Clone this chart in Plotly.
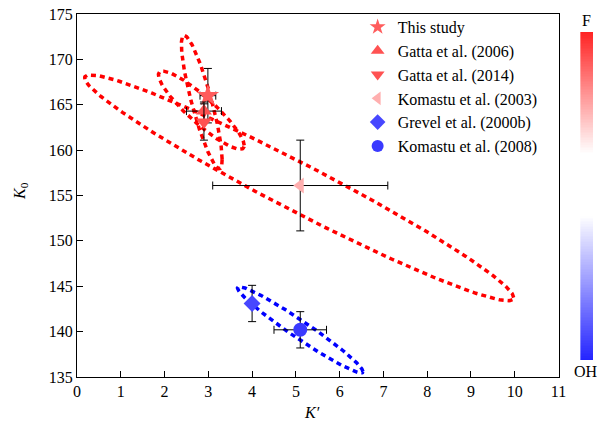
import numpy as np
import plotly.graph_objects as go

# ---- data ----
names = ["This study", "Gatta et al. (2006)", "Gatta et al. (2014)",
         "Komastu et al. (2003)", "Grevel et al. (2000b)", "Komastu et al. (2008)"]
k_prime = [2.99, 2.90, 2.90, 5.10, 4.00, 5.10]
k0 = [166.0, 164.3, 163.1, 156.1, 143.1, 140.2]
err_kp = [0.18, 0.40, 0.0, 2.0, 0.0, 0.60]
err_k0 = [3.0, 1.0, 2.0, 5.0, 2.0, 2.0]
symbols = ["star", "triangle-up", "triangle-down", "triangle-left", "diamond", "circle"]
marker_colors = ["#FF5C5C", "#FF5252", "#FF5252", "#FFAFAF", "#4747FF", "#3A3AFF"]
marker_sizes = [17, 14, 14, 14, 13, 14]

# confidence ellipses: centre K', centre K0, sigma K', sigma K0, correlation
ell_cx = [2.85, 2.84, 5.075, 5.10]
ell_cy = [165.3, 164.4, 155.85, 140.2]
ell_sig_kp = [0.19, 0.40, 2.0, 0.585]
ell_sig_k0 = [3.0, 1.76, 5.08, 1.94]
ell_rho = [-0.86, -0.90, -0.972, -0.97]
ell_colors = ["#FF0000", "#FF0000", "#FF0000", "#0000FF"]
ell_scale = 2.45

x_ticks = list(range(0, 12))
y_ticks = list(range(135, 180, 5))

# colour bar levels (OH at bottom -> F at top)
cbar_levels = np.linspace(0, 1, 200)

font_family = "'Liberation Serif', 'Times New Roman', 'DejaVu Serif', 'Noto Serif', serif"

fig = go.Figure()

t = np.linspace(0, 2 * np.pi, 241)
for cx, cy, sk, s0, r, c in zip(ell_cx, ell_cy, ell_sig_kp, ell_sig_k0, ell_rho, ell_colors):
    sx = ell_scale * sk
    sy = ell_scale * s0
    xs = cx + sx * np.cos(t)
    ys = cy + sy * (r * np.cos(t) + np.sqrt(1 - r * r) * np.sin(t))
    fig.add_trace(go.Scatter(x=xs, y=ys, mode="lines", showlegend=False, hoverinfo="skip",
                             line=dict(color=c, width=3.5, dash="5px,4px")))

for i in range(len(names)):
    fig.add_trace(go.Scatter(
        x=[k_prime[i]], y=[k0[i]], mode="markers", name=names[i],
        marker=dict(symbol=symbols[i], color=marker_colors[i], size=marker_sizes[i], line=dict(width=0)),
        error_x=dict(type="data", array=[err_kp[i]], visible=err_kp[i] > 0, color="black", thickness=1, width=4),
        error_y=dict(type="data", array=[err_k0[i]], visible=True, color="black", thickness=1, width=4),
    ))

# colour bar drawn as a thin heatmap on its own axes
fig.add_trace(go.Heatmap(
    z=[[v] for v in cbar_levels], x=[0], y=list(cbar_levels), xaxis="x2", yaxis="y2",
    colorscale=[[0, "rgb(35,35,255)"], [0.44, "rgb(255,255,255)"],
                [0.63, "rgb(255,255,255)"], [1, "rgb(255,35,35)"]],
    zmin=0, zmax=1, showscale=False, hoverinfo="skip",
))

W, H = 607, 434
ml, mr, mt, mb = 77, 6, 12, 57
pw = W - ml - mr
ph = H - mt - mb


def px_x(p):
    return (p - ml) / pw


def px_y(p):
    return (H - mb - p) / ph


fig.update_layout(
    width=W, height=H,
    margin=dict(l=ml, r=mr, t=mt, b=mb),
    paper_bgcolor="white", plot_bgcolor="white",
    font=dict(family=font_family, size=16, color="black"),
    showlegend=True,
    legend=dict(x=px_x(362), y=px_y(8), xanchor="left", yanchor="top", bgcolor="rgba(0,0,0,0)",
                borderwidth=0, font=dict(size=16, family=font_family), tracegroupgap=0,
                itemsizing="constant"),
    xaxis=dict(domain=[0, px_x(566)], range=[0, 11], tickvals=x_ticks, ticks="inside", ticklen=6,
               tickcolor="black", showline=True, linecolor="black", linewidth=1, mirror=True,
               showgrid=False, zeroline=False, tickfont=dict(size=16, family=font_family)),
    yaxis=dict(range=[135, 175], tickvals=y_ticks, ticks="inside", ticklen=6, tickcolor="black",
               showline=True, linecolor="black", linewidth=1, mirror=True, showgrid=False,
               zeroline=False, tickfont=dict(size=16, family=font_family)),
    xaxis2=dict(domain=[px_x(588), px_x(601)], anchor="y2", visible=False, fixedrange=True),
    yaxis2=dict(domain=[px_y(360), px_y(30)], anchor="x2", visible=False, fixedrange=True,
                range=[0, 1]),
    annotations=[
        dict(text="<i>K′</i>", x=px_x(316), y=px_y(413), xref="paper", yref="paper", showarrow=False,
             xanchor="center", yanchor="middle", font=dict(size=16, family=font_family)),
        dict(text="<i>K</i><sub>0</sub>", x=px_x(19), y=px_y(190), xref="paper", yref="paper",
             showarrow=False, textangle=-90, xanchor="center", yanchor="middle",
             font=dict(size=16, family=font_family)),
        dict(text="F", x=px_x(594), y=px_y(19), xref="paper", yref="paper", showarrow=False,
             xanchor="center", yanchor="middle", font=dict(size=16, family=font_family)),
        dict(text="OH", x=px_x(594), y=px_y(371), xref="paper", yref="paper", showarrow=False,
             xanchor="center", yanchor="middle", font=dict(size=16, family=font_family)),
    ],
)

fig.write_html("out.html")
